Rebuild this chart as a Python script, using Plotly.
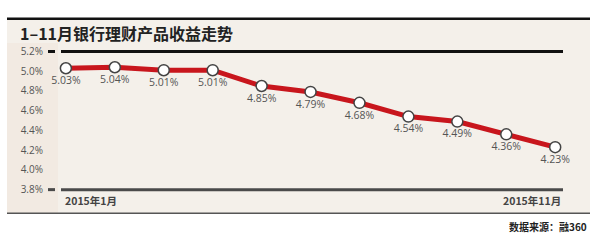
import plotly.graph_objects as go

months = ["2015年1月", "2月", "3月", "4月", "5月", "6月", "7月", "8月", "9月", "10月", "2015年11月"]
yields = [5.03, 5.04, 5.01, 5.01, 4.85, 4.79, 4.68, 4.54, 4.49, 4.36, 4.23]
ytick_vals = [3.8, 4.0, 4.2, 4.4, 4.6, 4.8, 5.0, 5.2]
ytick_text = ["3.8%", "4.0%", "4.2%", "4.4%", "4.6%", "4.8%", "5.0%", "5.2%"]
title_text = "1–11月银行理财产品收益走势"
source_text = "数据来源：融360"

W, H = 600, 242
def px(x):
    return x / W
def py(y):
    return 1 - y / H

xs = list(range(len(yields)))
FONT = "Noto Sans CJK SC"

fig = go.Figure()
fig.add_trace(go.Scatter(
    x=xs, y=yields, mode="lines+markers+text",
    line=dict(color="#c8161d", width=5),
    marker=dict(size=11, color="white", line=dict(color="#444", width=1.5)),
    text=[f"{v:.2f}%" for v in yields],
    textposition="bottom center",
    textfont=dict(family="Open Sans", size=10.5, color="#555"),
    cliponaxis=False, hoverinfo="skip", showlegend=False,
))

Y_TOP, Y_BOT = 47, 193

shapes = [
    dict(type="rect", xref="paper", yref="paper", x0=px(7), x1=px(590), y0=py(218), y1=py(12),
         fillcolor="#f4f0ea", line=dict(width=0), layer="below"),
    dict(type="rect", xref="paper", yref="paper", x0=px(7), x1=px(58), y0=py(218), y1=py(38),
         fillcolor="#f2eae2", line=dict(width=0), layer="below"),
    dict(type="line", xref="paper", yref="paper", x0=px(7), x1=px(590), y0=py(12.5), y1=py(12.5),
         line=dict(color="#111", width=2.5)),
    dict(type="line", xref="paper", yref="paper", x0=px(7), x1=px(590), y0=py(218), y1=py(218),
         line=dict(color="#555", width=1.5)),
    dict(type="line", xref="paper", yref="paper", x0=px(61), x1=px(563), y0=py(Y_TOP), y1=py(Y_TOP),
         line=dict(color="#111", width=3)),
    dict(type="line", xref="paper", yref="paper", x0=px(48), x1=px(55), y0=py(Y_TOP), y1=py(Y_TOP),
         line=dict(color="#111", width=3)),
    dict(type="line", xref="paper", yref="paper", x0=px(61), x1=px(563), y0=py(Y_BOT), y1=py(Y_BOT),
         line=dict(color="#4a4a4a", width=3)),
    dict(type="line", xref="paper", yref="paper", x0=px(48), x1=px(55), y0=py(Y_BOT), y1=py(Y_BOT),
         line=dict(color="#4a4a4a", width=3)),
]

annotations = [
    dict(text="<b>" + title_text + "</b>", xref="paper", yref="paper", x=px(18), y=py(28),
         xanchor="left", yanchor="middle", showarrow=False,
         font=dict(family=FONT, size=16, color="#222")),
    dict(text="<b>" + months[0] + "</b>", xref="paper", yref="paper", x=px(63), y=py(205),
         xanchor="left", yanchor="middle", showarrow=False,
         font=dict(family=FONT, size=10.5, color="#444")),
    dict(text="<b>" + months[-1] + "</b>", xref="paper", yref="paper", x=px(563), y=py(205),
         xanchor="right", yanchor="middle", showarrow=False,
         font=dict(family=FONT, size=10.5, color="#444")),
    dict(text="<b>" + source_text + "</b>", xref="paper", yref="paper", x=px(589), y=py(232),
         xanchor="right", yanchor="middle", showarrow=False,
         font=dict(family=FONT, size=10, color="#222")),
]

fig.update_layout(
    width=W, height=H, margin=dict(l=0, r=0, t=0, b=0),
    paper_bgcolor="white", plot_bgcolor="#f6f3ee",
    shapes=shapes, annotations=annotations,
    xaxis=dict(domain=[px(61), px(564)], range=[-0.1, 10.18], showgrid=False, zeroline=False,
               showticklabels=False, showline=False, fixedrange=True),
    yaxis=dict(domain=[py(Y_BOT), py(Y_TOP)], range=[3.8, 5.2], showgrid=False, zeroline=False,
               tickvals=ytick_vals, ticktext=ytick_text, ticks="", showline=False,
               ticklabelstandoff=17,
               tickfont=dict(family="Open Sans", size=10, color="#555"), fixedrange=True),
)

fig.write_html("out.html")
